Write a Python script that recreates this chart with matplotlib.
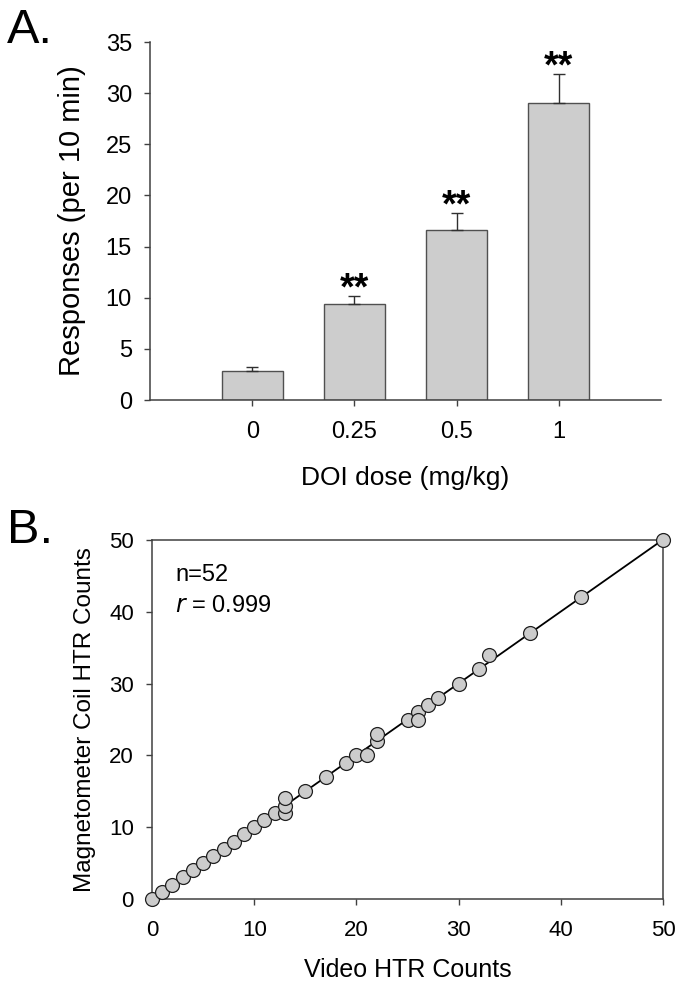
import numpy as np
import matplotlib
matplotlib.use("Agg")
import matplotlib.pyplot as plt

plt.rcParams['font.family'] = ['Liberation Sans', 'DejaVu Sans']

# Panel A data
doses = ["0", "0.25", "0.5", "1"]
responses = [2.8, 9.4, 16.6, 29.0]
sem = [0.4, 0.8, 1.7, 2.9]
signif = ["", "**", "**", "**"]

# Panel B data
video_counts = [0, 1, 2, 3, 4, 5, 6, 7, 8, 9, 10, 11, 12, 13, 13, 13, 15, 17, 19, 20,
                21, 22, 22, 25, 26, 26, 27, 28, 30, 32, 33, 37, 42, 50]
coil_counts = [0, 1, 2, 3, 4, 5, 6, 7, 8, 9, 10, 11, 12, 12, 13, 14, 15, 17, 19, 20,
               20, 22, 23, 25, 26, 25, 27, 28, 30, 32, 34, 37, 42, 50]

W, H = 682, 983
fig = plt.figure(figsize=(W / 100, H / 100), dpi=100)

def ax_rect(l, t, r, b):
    return [l / W, 1 - b / H, (r - l) / W, (b - t) / H]

spine_col = "#404040"

# ---------------- Panel A ----------------
axA = fig.add_axes(ax_rect(150, 42, 661, 400))
pos = np.arange(1, len(doses) + 1)
axA.bar(pos, responses, width=0.6, color="#cdcdcd", edgecolor="#505050", linewidth=1.0, zorder=2)
axA.errorbar(pos, responses, yerr=[[0] * len(sem), sem], fmt="none", ecolor="#303030",
             elinewidth=1.0, capsize=4.5, capthick=1.0, zorder=3)
for p, r, e, s in zip(pos, responses, sem, signif):
    if s:
        axA.annotate(s, (p, r + e), xytext=(0, -3), textcoords="offset points",
                     ha="center", va="baseline", fontsize=27, fontweight="bold")
axA.set_xlim(0, 5)
axA.set_ylim(0, 35)
axA.set_yticks(np.arange(0, 36, 5))
axA.set_xticks(pos)
axA.set_xticklabels(doses)
for sp in ["top", "right"]:
    axA.spines[sp].set_visible(False)
for sp in ["left", "bottom"]:
    axA.spines[sp].set_color(spine_col)
    axA.spines[sp].set_linewidth(1.1)
axA.tick_params(axis="both", direction="out", length=4, width=1, color=spine_col, labelsize=17)
axA.tick_params(axis="y", pad=9)
axA.tick_params(axis="x", pad=11)
axA.set_ylabel("Responses (per 10 min)", fontsize=21)
axA.yaxis.set_label_coords(-0.125, 0.5)
axA.set_xlabel("DOI dose (mg/kg)", fontsize=19)
axA.xaxis.set_label_coords(0.5, -0.185)
fig.text(7 / W, 1 - 43 / H, "A.", fontsize=35, ha="left", va="baseline")

# ---------------- Panel B ----------------
axB = fig.add_axes(ax_rect(152, 540, 663, 899))
xv = np.array(video_counts, dtype=float)
yv = np.array(coil_counts, dtype=float)
slope, intercept = np.polyfit(xv, yv, 1)
xl = np.array([0, 50])
axB.plot(xl, slope * xl + intercept, color="black", linewidth=1.3, zorder=2)
axB.scatter(xv, yv, s=100, facecolor="#cccccc", edgecolor="#202020", linewidth=0.9,
            zorder=3, clip_on=False)
axB.set_xlim(0, 50)
axB.set_ylim(0, 50)
axB.set_xticks(np.arange(0, 51, 10))
axB.set_yticks(np.arange(0, 51, 10))
for sp in axB.spines.values():
    sp.set_color(spine_col)
    sp.set_linewidth(1.1)
axB.tick_params(axis="both", direction="out", length=4, width=1, color=spine_col, labelsize=16)
axB.tick_params(axis="y", pad=9)
axB.tick_params(axis="x", pad=11)
axB.set_ylabel("Magnetometer Coil HTR Counts", fontsize=17.5)
axB.yaxis.set_label_coords(-0.11, 0.5)
axB.set_xlabel("Video HTR Counts", fontsize=18)
axB.xaxis.set_label_coords(0.5, -0.165)
axB.text(0.045, 0.885, "n=52", transform=axB.transAxes, fontsize=17, ha="left", va="baseline")
axB.text(0.045, 0.80, r"$\it{r}$ = 0.999", transform=axB.transAxes, fontsize=17, ha="left", va="baseline")
fig.text(7 / W, 1 - 543 / H, "B.", fontsize=35, ha="left", va="baseline")

fig.savefig("out.png", dpi=100)
